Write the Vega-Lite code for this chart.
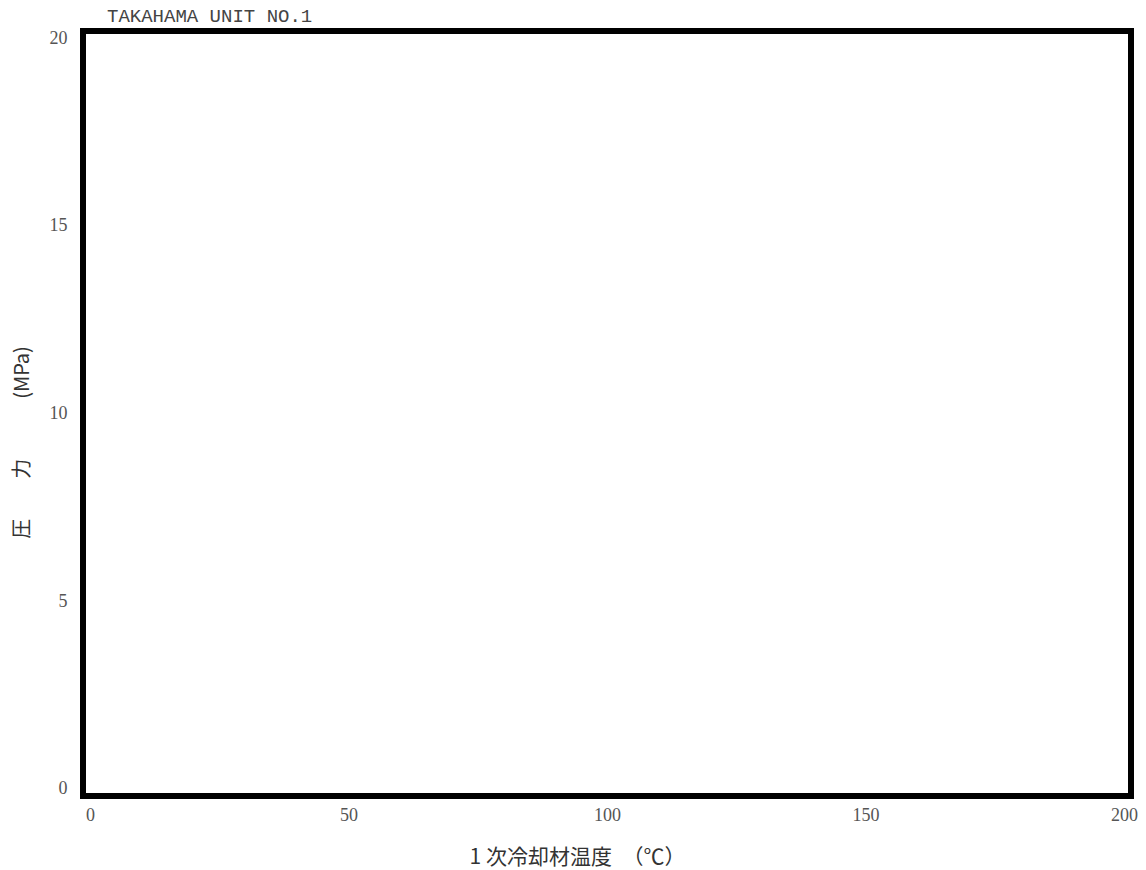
{
  "$schema": "https://vega.github.io/schema/vega-lite/v6.json",
  "autosize": {"type": "none"},
  "padding": {"left": 83, "top": 31, "right": 15, "bottom": 74},
  "width": 1048,
  "height": 765,
  "background": "white",
  "title": {
    "text": "TAKAHAMA UNIT NO.1",
    "anchor": "start",
    "frame": "group",
    "dx": 24,
    "offset": -12,
    "baseline": "alphabetic",
    "font": "Liberation Mono",
    "fontSize": 19,
    "fontWeight": "normal",
    "color": "#444444"
  },
  "data": {"values": []},
  "mark": {"type": "point"},
  "encoding": {
    "x": {
      "field": "temperature",
      "type": "quantitative",
      "scale": {"domain": [-1.35, 201.35], "nice": false, "zero": false},
      "axis": {
        "values": [0, 50, 100, 150, 200],
        "title": "1 次冷却材温度　（℃）",
        "grid": false,
        "domain": false,
        "ticks": false,
        "tickSize": 0,
        "labelPadding": 10,
        "labelFont": "Liberation Serif",
        "labelFontSize": 18,
        "labelColor": "#555555",
        "titleFont": "Noto Sans CJK JP",
        "titleFontSize": 21,
        "titleFontWeight": "normal",
        "titleColor": "#333333",
        "titleX": 494,
        "titleY": 61,
        "titleBaseline": "middle",
        "titleAlign": "center"
      }
    },
    "y": {
      "field": "pressure",
      "type": "quantitative",
      "scale": {"domain": [-0.19, 20.19], "nice": false, "zero": false},
      "axis": {
        "values": [0, 5, 10, 15, 20],
        "title": "圧　　力　　　(MPa)",
        "grid": false,
        "domain": false,
        "ticks": false,
        "tickSize": 0,
        "labelPadding": 16,
        "labelFont": "Liberation Serif",
        "labelFontSize": 18,
        "labelColor": "#555555",
        "titleFont": "Noto Sans CJK JP",
        "titleFontSize": 20,
        "titleFontWeight": "normal",
        "titleColor": "#333333",
        "titleX": -61,
        "titleY": 411,
        "titleBaseline": "middle",
        "titleAlign": "center",
        "titleAngle": -90
      }
    }
  },
  "config": {
    "view": {"stroke": "black", "strokeWidth": 6}
  }
}
